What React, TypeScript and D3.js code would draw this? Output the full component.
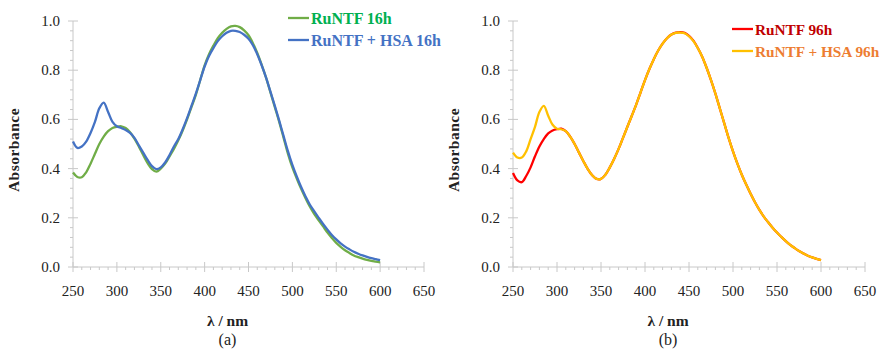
import * as d3 from 'd3'

// wavelength grid (nm), 5 nm steps
const wavelengths = d3.range(250, 601, 5)

const runtf16h = [
    0.384, 0.366, 0.365, 0.385, 0.42, 0.46, 0.5, 0.53, 0.552, 0.565, 0.57, 0.572, 0.565, 0.548, 0.522,
    0.49, 0.455, 0.422, 0.398, 0.388, 0.4, 0.42, 0.45, 0.48, 0.515, 0.555, 0.6, 0.65, 0.7, 0.76,
    0.82, 0.865, 0.9, 0.93, 0.952, 0.968, 0.978, 0.98, 0.975, 0.962, 0.942, 0.91, 0.87, 0.822, 0.77,
    0.71, 0.65, 0.59, 0.525, 0.46, 0.405, 0.36, 0.318, 0.28, 0.245, 0.215, 0.19, 0.165, 0.14, 0.118,
    0.098, 0.082, 0.068, 0.057, 0.047, 0.04, 0.034, 0.029, 0.025, 0.022, 0.019,
]
const runtfHsa16h = [
    0.51, 0.484, 0.49, 0.51, 0.545, 0.59, 0.645, 0.668, 0.63, 0.59, 0.572, 0.565, 0.557, 0.545, 0.525,
    0.495, 0.465, 0.435, 0.41, 0.398, 0.405, 0.425, 0.455, 0.49, 0.52, 0.56, 0.605, 0.655, 0.705, 0.76,
    0.815, 0.858, 0.89, 0.918, 0.938, 0.952, 0.96, 0.96, 0.955, 0.944, 0.928, 0.902, 0.865, 0.82, 0.77,
    0.713, 0.655, 0.595, 0.532, 0.47, 0.415, 0.368, 0.325, 0.287, 0.253, 0.226, 0.2, 0.175, 0.152, 0.13,
    0.112, 0.096, 0.083, 0.072, 0.062, 0.054, 0.047, 0.041, 0.036, 0.032, 0.028,
]
const runtf96h = [
    0.382, 0.352, 0.345, 0.37, 0.405, 0.45, 0.49, 0.52, 0.543, 0.555, 0.56, 0.562, 0.552, 0.53, 0.5,
    0.465, 0.43, 0.398, 0.373, 0.358, 0.358, 0.375, 0.405, 0.44, 0.48, 0.525, 0.57, 0.615, 0.66, 0.71,
    0.76, 0.805, 0.845, 0.88, 0.908, 0.93, 0.945, 0.953, 0.955, 0.952, 0.94, 0.92, 0.89, 0.855, 0.81,
    0.76, 0.705, 0.645, 0.585, 0.525, 0.47, 0.42, 0.375, 0.335, 0.298, 0.263, 0.232, 0.205, 0.182, 0.16,
    0.14, 0.122, 0.105, 0.09, 0.077, 0.065, 0.055, 0.046, 0.039, 0.033, 0.028,
]
const runtfHsa96h = [
    0.465, 0.445, 0.445, 0.47, 0.52, 0.57, 0.63, 0.655, 0.615, 0.578, 0.562, 0.56, 0.552, 0.53, 0.5,
    0.465, 0.43, 0.398, 0.373, 0.358, 0.358, 0.375, 0.405, 0.44, 0.48, 0.525, 0.57, 0.615, 0.66, 0.71,
    0.76, 0.805, 0.845, 0.88, 0.908, 0.93, 0.945, 0.952, 0.953, 0.95, 0.938, 0.918, 0.89, 0.855, 0.81,
    0.76, 0.705, 0.645, 0.585, 0.525, 0.47, 0.42, 0.375, 0.335, 0.298, 0.263, 0.232, 0.205, 0.182, 0.16,
    0.14, 0.122, 0.105, 0.09, 0.077, 0.065, 0.055, 0.046, 0.039, 0.033, 0.028,
]

const xTicks = [250, 300, 350, 400, 450, 500, 550, 600, 650]
const yTicks = [0, 0.2, 0.4, 0.6, 0.8, 1.0]

interface Series {
    name: string
    values: number[]
    line: string
    text: string
}

const panelA: Series[] = [
    { name: 'RuNTF 16h', values: runtf16h, line: '#70AD47', text: '#00B050' },
    { name: 'RuNTF + HSA 16h', values: runtfHsa16h, line: '#4472C4', text: '#4472C4' },
]
const panelB: Series[] = [
    { name: 'RuNTF 96h', values: runtf96h, line: '#FF0000', text: '#C00000' },
    { name: 'RuNTF + HSA 96h', values: runtfHsa96h, line: '#FFC000', text: '#ED7D31' },
]

const serif = 'Liberation Serif, DejaVu Serif, serif'
const axisColor = '#C8C8C8'

function Panel({
    x0,
    x1,
    series,
    caption,
    legendX,
    legendY,
    legendSize,
}: {
    x0: number
    x1: number
    series: Series[]
    caption: string
    legendX: number
    legendY: number
    legendSize: number
}) {
    const top = 21
    const bottom = 267
    const x = d3.scaleLinear().domain([250, 650]).range([x0, x1])
    const y = d3.scaleLinear().domain([0, 1]).range([bottom, top])
    const line = d3
        .line<number>()
        .x((_, i) => x(wavelengths[i]))
        .y((d) => y(d))
        .curve(d3.curveCatmullRom)
    const minorX = d3.range(250, 651, 10).filter((v) => v % 50 !== 0)
    const minorY = d3.range(0, 1.001, 0.04).filter((_, i) => i % 5 !== 0)
    const labelX = (x0 + x1) / 2 - 21

    return (
        <g style={{ fontFamily: serif }}>
            {/* axes */}
            <line x1={x0} x2={x1} y1={bottom} y2={bottom} stroke={axisColor} strokeWidth={1} />
            <line x1={x0} x2={x0} y1={top} y2={bottom} stroke={axisColor} strokeWidth={1} />
            {xTicks.map((t) => (
                <g key={t}>
                    <line x1={x(t)} x2={x(t)} y1={bottom - 5} y2={bottom + 5} stroke={axisColor} />
                    <text x={x(t)} y={296} textAnchor="middle" fontSize={15} fill="#222">
                        {t}
                    </text>
                </g>
            ))}
            {minorX.map((t) => (
                <line key={t} x1={x(t)} x2={x(t)} y1={bottom} y2={bottom + 3} stroke={axisColor} />
            ))}
            {yTicks.map((t) => (
                <g key={t}>
                    <line x1={x0 - 5} x2={x0 + 5} y1={y(t)} y2={y(t)} stroke={axisColor} />
                    <text x={x0 - 13} y={y(t) + 5} textAnchor="end" fontSize={15} fill="#222">
                        {t.toFixed(1)}
                    </text>
                </g>
            ))}
            {minorY.map((t) => (
                <line key={t} x1={x0 - 3} x2={x0} y1={y(t)} y2={y(t)} stroke={axisColor} />
            ))}

            {/* curves */}
            {series.map((s) => (
                <path
                    key={s.name}
                    d={line(s.values) ?? ''}
                    fill="none"
                    stroke={s.line}
                    strokeWidth={2.3}
                    strokeLinejoin="round"
                />
            ))}

            {/* legend */}
            {series.map((s, i) => (
                <g key={s.name} transform={`translate(${legendX}, ${legendY + i * 22})`}>
                    <line x1={0} x2={21} y1={0} y2={0} stroke={s.line} strokeWidth={2.3} />
                    <text x={23} y={5.5} fontWeight="bold" fontSize={legendSize} fill={s.text}>
                        {s.name}
                    </text>
                </g>
            ))}

            {/* axis titles */}
            <text
                transform={`translate(${x0 - 54}, ${(top + bottom) / 2 + 6}) rotate(-90)`}
                textAnchor="middle"
                fontWeight="bold"
                fontSize={15.5}
                letterSpacing={0.5}
                fill="#222"
            >
                Absorbance
            </text>
            <text x={labelX} y={326} textAnchor="middle" fontWeight="bold" fontSize={15.5} fill="#222">
                λ / nm
            </text>
            <text x={labelX} y={345} textAnchor="middle" fontSize={16} fill="#222">
                {caption}
            </text>
        </g>
    )
}

export default function App() {
    return (
        <svg
            width={883}
            height={350}
            style={{ position: 'absolute', left: 0, top: 0, background: 'white' }}
        >
            <Panel
                x0={73}
                x1={424}
                series={panelA}
                caption="(a)"
                legendX={288}
                legendY={18}
                legendSize={16}
            />
            <Panel
                x0={513}
                x1={865}
                series={panelB}
                caption="(b)"
                legendX={732}
                legendY={29}
                legendSize={15.3}
            />
        </svg>
    )
}
